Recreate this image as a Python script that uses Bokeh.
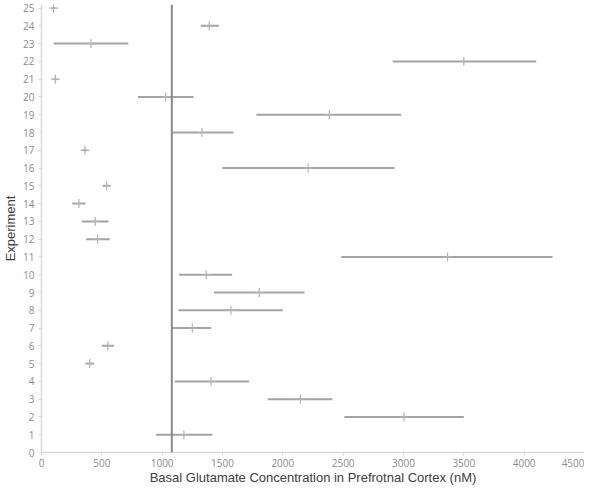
from bokeh.plotting import figure
from bokeh.models import ColumnDataSource, Range1d, Span, FixedTicker
from bokeh.embed import file_html
from bokeh.resources import INLINE

experiment = list(range(1, 26))
mean = [1180, 3005, 2145, 1405, 400, 550, 1250, 1570, 1805, 1365,
        3365, 465, 445, 310, 540, 2210, 360, 1330, 2385, 1030,
        115, 3500, 410, 1390, 100]
low = [950, 2510, 1875, 1105, 365, 500, 1080, 1135, 1430, 1140,
       2485, 370, 335, 255, 510, 1500, 340, 1075, 1780, 800,
       100, 2910, 100, 1320, 85]
high = [1415, 3500, 2410, 1720, 435, 600, 1405, 2000, 2180, 1580,
        4235, 565, 555, 365, 570, 2925, 380, 1590, 2980, 1260,
        130, 4100, 720, 1470, 115]
reference_value = 1080
x_ticks = [0, 500, 1000, 1500, 2000, 2500, 3000, 3500, 4000, 4500]
y_ticks = list(range(0, 26))
x_title = "Basal Glutamate Concentration in Prefrotnal Cortex (nM)"
y_title = "Experiment"

src = ColumnDataSource(dict(y=experiment, m=mean, lo=low, hi=high))

p = figure(width=584, height=487, output_backend="svg", toolbar_location=None,
           x_range=Range1d(0, 4500), y_range=Range1d(0, 25.2),
           min_border_left=0, min_border_right=0, min_border_top=4,
           min_border_bottom=0)
p.outline_line_color = None
p.xgrid.grid_line_color = None
p.ygrid.grid_line_color = None

p.segment(x0="lo", y0="y", x1="hi", y1="y", source=src,
          line_color="#a3a3a3", line_width=2)
p.scatter(x="m", y="y", source=src, marker="cross", size=9,
          line_color="#b3b3b3", line_width=1.2)
p.add_layout(Span(location=reference_value, dimension="height",
                  line_color="#8a8a8a", line_width=2))

for ax in (p.xaxis[0], p.yaxis[0]):
    ax.axis_line_color = "#d9d9d9"
    ax.axis_line_width = 1.5
    ax.major_tick_line_color = "#d9d9d9"
    ax.minor_tick_line_color = None
    ax.major_tick_in = 0
    ax.major_tick_out = 3
    ax.major_label_text_color = "#8c8c8c"
    ax.major_label_text_font = "Open Sans"
    ax.major_label_text_font_size = "10px"
    ax.axis_label_text_color = "#404040"
    ax.axis_label_text_font = "Liberation Sans"
    ax.axis_label_text_font_size = "13px"
    ax.axis_label_text_font_style = "normal"

p.xaxis.ticker = FixedTicker(ticks=x_ticks)
p.yaxis.ticker = FixedTicker(ticks=y_ticks)
p.xaxis.axis_label = x_title
p.yaxis.axis_label = y_title
p.xaxis.major_label_standoff = 3
p.xaxis.axis_label_standoff = 0
p.yaxis.major_label_standoff = 4
p.yaxis.axis_label_standoff = 2

open("out.html", "w").write(file_html(p, INLINE))
